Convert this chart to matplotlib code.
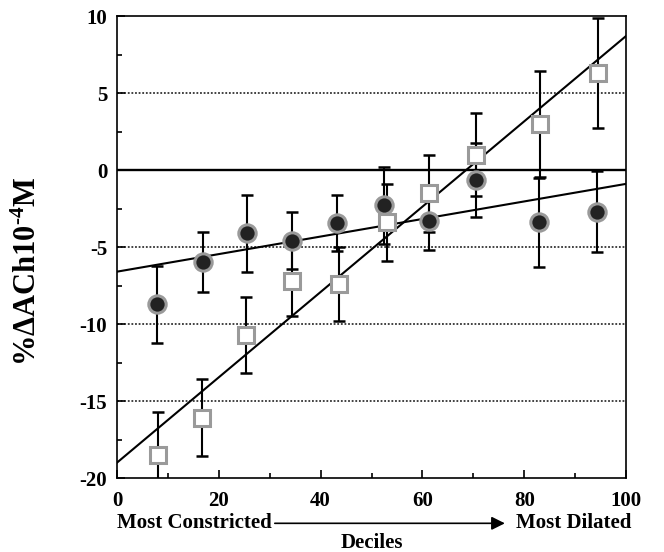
import numpy as np
import matplotlib
matplotlib.use('Agg')
import matplotlib.pyplot as plt

plt.rcParams['font.family'] = 'Liberation Serif'
plt.rcParams['font.weight'] = 'bold'
plt.rcParams['axes.unicode_minus'] = False
plt.rcParams['mathtext.fontset'] = 'custom'
plt.rcParams['mathtext.rm'] = 'Liberation Serif:weight=bold'
plt.rcParams['mathtext.bf'] = 'Liberation Serif:weight=bold'
plt.rcParams['mathtext.it'] = 'Liberation Serif:weight=bold'

# squares (open)
sq_x = [8.0, 16.7, 25.3, 34.4, 43.6, 53.0, 61.2, 70.5, 83.1, 94.5]
sq_y = [-18.5, -16.1, -10.7, -7.2, -7.4, -3.4, -1.5, 1.0, 3.0, 6.3]
sq_err = [2.8, 2.5, 2.45, 2.3, 2.4, 2.5, 2.5, 2.7, 3.45, 3.6]

# circles (filled)
circ_x = [7.8, 16.8, 25.5, 34.4, 43.2, 52.5, 61.2, 70.5, 83.0, 94.3]
circ_y = [-8.7, -6.0, -4.1, -4.6, -3.45, -2.3, -3.3, -0.65, -3.4, -2.7]
circ_err = [2.5, 1.95, 2.5, 1.85, 1.8, 2.5, 1.9, 2.4, 2.9, 2.65]

# fitted lines: (intercept, slope)
sq_fit = (-19.0, 0.277)
circ_fit = (-6.6, 0.057)

grid_y = [5, -5, -10, -15]

fig = plt.figure(figsize=(6.64, 5.52), dpi=100)
ax = fig.add_axes([0.1762, 0.134, 0.7666, 0.837])

for g in grid_y:
    ax.axhline(g, color='#333333', lw=1.3, ls=(0, (1, 1)), zorder=1)
ax.axhline(0, color='black', lw=1.7, zorder=1)

xs = np.array([0, 100])
ax.plot(xs, circ_fit[0] + circ_fit[1] * xs, color='black', lw=1.5, zorder=2)
ax.plot(xs, sq_fit[0] + sq_fit[1] * xs, color='black', lw=1.5, zorder=2)

ax.errorbar(circ_x, circ_y, yerr=circ_err, fmt='none', ecolor='black',
            elinewidth=1.5, capsize=4, capthick=1.8, zorder=3)
ax.errorbar(sq_x, sq_y, yerr=sq_err, fmt='none', ecolor='black',
            elinewidth=1.5, capsize=4, capthick=1.8, zorder=3)

ax.plot(circ_x, circ_y, 'o', ms=12.5, mfc='#222222', mec='#9a9a9a', mew=2.2,
        ls='none', zorder=4)
ax.plot(sq_x, sq_y, 's', ms=12, mfc='white', mec='#9a9a9a', mew=2.2,
        ls='none', zorder=5)

ax.set_xlim(0, 100)
ax.set_ylim(-20, 10)
ax.set_xticks([0, 20, 40, 60, 80, 100])
ax.set_xticks([10, 30, 50, 70, 90], minor=True)
ax.set_yticks([-20, -15, -10, -5, 0, 5, 10])
ax.set_yticks(np.arange(-17.5, 10, 5), minor=True)
ax.tick_params(which='both', direction='in', top=False, right=False,
               labelsize=15, width=1.2)
ax.tick_params(which='major', length=6)
ax.tick_params(axis='x', pad=9)
ax.tick_params(axis='y', pad=7)
ax.tick_params(which='minor', length=3.5)
for lab in ax.get_xticklabels() + ax.get_yticklabels():
    lab.set_fontweight('bold')
for s in ax.spines.values():
    s.set_linewidth(1.2)

fig.text(28 / 664, 1 - 271 / 552, '%ΔACh10$^{\\text{-}4}$M', rotation=90,
         ha='center', va='center', fontsize=22, fontweight='bold')

ax.text(0, -0.098, 'Most Constricted', transform=ax.transAxes, ha='left',
        va='center', fontsize=15, fontweight='bold')
ax.text(1.01, -0.098, 'Most Dilated', transform=ax.transAxes, ha='right',
        va='center', fontsize=15, fontweight='bold')
ax.annotate('', xy=(0.762, -0.098), xytext=(0.31, -0.098),
            xycoords='axes fraction',
            arrowprops=dict(arrowstyle='-|>', color='black', lw=1.2,
                            mutation_scale=20, shrinkA=0, shrinkB=0))
ax.text(0.5, -0.141, 'Deciles', transform=ax.transAxes, ha='center',
        va='center', fontsize=15, fontweight='bold')

fig.savefig('out.png', dpi=100)
